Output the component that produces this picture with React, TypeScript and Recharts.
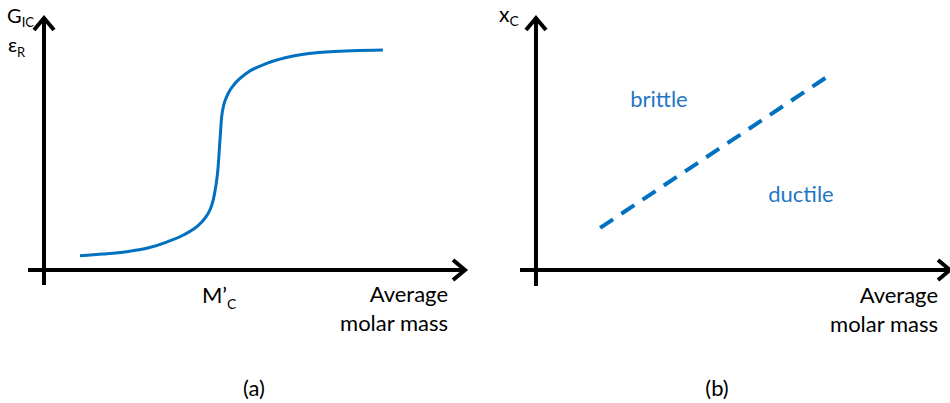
import React from "react";
import { LineChart, Line, XAxis, YAxis, ReferenceLine } from "recharts";

// ---------- data ----------
// Panel (a): toughness / strain at break vs average molar mass (S-curve)
const molarMassA = [8.55, 14.1, 19.6, 24.4, 29.3, 33.1, 36.3, 38.2, 39.4, 40.2, 40.8, 41.3, 41.8, 42.2, 42.7, 43.4, 44.2, 45.4, 48.1, 52.9, 59.2, 67.9, 80.5];
const toughnessA = [5.67, 6.35, 7.26, 8.6, 11.2, 13.9, 17.2, 20.5, 23.8, 27.8, 33.1, 39.7, 51.6, 60.8, 65.5, 68.8, 71.4, 74.1, 78.1, 82.0, 84.9, 86.6, 87.3];
const criticalMass = 41.6; // M'c position

// Panel (b): critical x_c vs average molar mass (brittle / ductile boundary)
const molarMassB = [15.5, 71.0];
const xcB = [16.7, 77.4];
const regionLabels = ["brittle", "ductile"];

const dataA = molarMassA.map((m, i) => ({ m, v: toughnessA[i] }));
const dataB = molarMassB.map((m, i) => ({ m, v: xcB[i] }));

// axis extents (data units); arrow tip at 100
const XMIN_A = -3.8;
const YMIN_A = -5.95;
const XMIN_B = -3.86;
const YMIN_B = -6.35;

const FONT = "Lato, 'Open Sans', sans-serif";
const BLUE = "#0070C0";
const TEXT_BLUE = "#1f77c4";

const Arrow = (props: any) => {
  const { x1, y1, x2, y2 } = props;
  const dx = x2 - x1;
  const dy = y2 - y1;
  const len = Math.sqrt(dx * dx + dy * dy) || 1;
  const ux = dx / len;
  const uy = dy / len;
  const px = -uy;
  const py = ux;
  const back = 12;
  const half = 10;
  const a = `${x2 - ux * back + px * half},${y2 - uy * back + py * half}`;
  const b = `${x2 - ux * back - px * half},${y2 - uy * back - py * half}`;
  return (
    <g>
      <line x1={x1} y1={y1} x2={x2 - ux * 2} y2={y2 - uy * 2} stroke="#000" strokeWidth={4} />
      <polyline points={`${a} ${x2},${y2} ${b}`} fill="none" stroke="#000" strokeWidth={4} strokeLinejoin="miter" />
    </g>
  );
};

export default function App() {
  return (
    <div style={{ position: "absolute", left: 0, top: 0, width: 950, height: 403, background: "#fff", overflow: "hidden", fontFamily: FONT }}>
      <div style={{ position: "absolute", left: 0, top: 0 }}>
        <LineChart width={475} height={403} data={dataA} margin={{ top: 18, right: 10, bottom: 118, left: 28 }}>
          <XAxis dataKey="m" type="number" domain={[XMIN_A, 100]} allowDataOverflow hide />
          <YAxis type="number" domain={[YMIN_A, 100]} allowDataOverflow hide />
          <ReferenceLine ifOverflow="visible" segment={[{ x: XMIN_A, y: 0 }, { x: 100, y: 0 }]} shape={Arrow} />
          <ReferenceLine ifOverflow="visible" segment={[{ x: 0, y: YMIN_A }, { x: 0, y: 100 }]} shape={Arrow} />
          <Line dataKey="v" type="monotone" stroke={BLUE} strokeWidth={3} dot={false} isAnimationActive={false} />
        </LineChart>
      </div>
      <div style={{ position: "absolute", left: 480, top: 0 }}>
        <LineChart width={470} height={403} data={dataB} margin={{ top: 18, right: 0, bottom: 117, left: 40 }}>
          <XAxis dataKey="m" type="number" domain={[XMIN_B, 100]} allowDataOverflow hide />
          <YAxis type="number" domain={[YMIN_B, 100]} allowDataOverflow hide />
          <ReferenceLine ifOverflow="visible" segment={[{ x: XMIN_B, y: 0 }, { x: 100, y: 0 }]} shape={Arrow} />
          <ReferenceLine ifOverflow="visible" segment={[{ x: 0, y: YMIN_B }, { x: 0, y: 100 }]} shape={Arrow} />
          <Line dataKey="v" type="linear" stroke={BLUE} strokeWidth={4} strokeDasharray="15.5 10" dot={false} isAnimationActive={false} />
        </LineChart>
      </div>
      <svg width={950} height={403} style={{ position: "absolute", left: 0, top: 0, pointerEvents: "none" }} fontFamily={FONT}>
        {/* panel (a) labels */}
        <text x={7} y={23} fontSize={20} fill="#000">
          G<tspan fontSize={13} dy={4}>IC</tspan>
        </text>
        <text x={8} y={52} fontSize={20} fill="#000">
          ε<tspan fontSize={13} dy={5}>R</tspan>
        </text>
        <text x={44 + criticalMass * 4.21} y={303} fontSize={22} fill="#000" textAnchor="middle">
          M’<tspan fontSize={14} dy={6}>C</tspan>
        </text>
        <text x={448} y={302} fontSize={22} fill="#000" textAnchor="end">Average</text>
        <text x={448} y={331} fontSize={22} fill="#000" textAnchor="end">molar mass</text>
        <text x={254} y={396} fontSize={22} fill="#000" textAnchor="middle">(a)</text>
        {/* panel (b) labels */}
        <text x={499} y={22} fontSize={21} fill="#000">
          x<tspan fontSize={14} dy={4}>C</tspan>
        </text>
        <text x={659} y={107} fontSize={22} fill={TEXT_BLUE} textAnchor="middle">{regionLabels[0]}</text>
        <text x={801} y={202} fontSize={22} fill={TEXT_BLUE} textAnchor="middle">{regionLabels[1]}</text>
        <text x={938} y={303} fontSize={22} fill="#000" textAnchor="end">Average</text>
        <text x={938} y={332} fontSize={22} fill="#000" textAnchor="end">molar mass</text>
        <text x={717} y={396} fontSize={22} fill="#000" textAnchor="middle">(b)</text>
      </svg>
    </div>
  );
}
